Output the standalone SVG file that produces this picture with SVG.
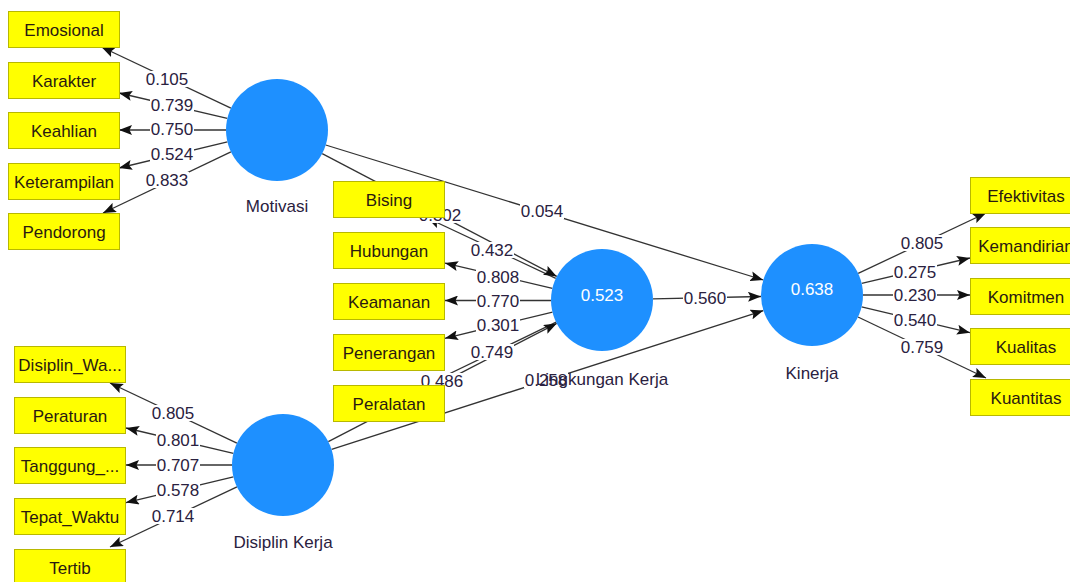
<svg xmlns="http://www.w3.org/2000/svg" width="1070" height="582" viewBox="0 0 1070 582">
<style>
.bg{fill:#ffffff}
.ln{stroke:#333333;stroke-width:1.3;fill:none;marker-end:url(#arr)}
.lb{fill:#ffffff}
.lbl{font-family:"Liberation Sans",Arial,sans-serif;font-size:17px;fill:#2a2140;text-anchor:middle}
.box{fill:#ffff00;stroke:#b8b800;stroke-width:1}
.bt{font-family:"Liberation Sans",Arial,sans-serif;font-size:17px;fill:#2a1a10;text-anchor:middle}
.lv{fill:#1e90ff}
.lvt{font-family:"Liberation Sans",Arial,sans-serif;font-size:17px;fill:#ffffff;text-anchor:middle}
.lvn{font-family:"Liberation Sans",Arial,sans-serif;font-size:17px;fill:#2a2140;text-anchor:middle}
</style>
<defs>
<marker id="arr" viewBox="0 0 13 10" refX="13" refY="5" markerWidth="13" markerHeight="10" markerUnits="userSpaceOnUse" orient="auto">
<path d="M0,0 L13,5 L0,10 L2.5,5 z" fill="#111111"/>
</marker>
</defs>
<rect class="bg" x="0" y="0" width="1070" height="582"/>

<g id="connectors">
<!-- Motivasi indicators -->
<line class="ln" x1="230.9" y1="108.2" x2="101.5" y2="47"/>
<line class="ln" x1="227.3" y1="118.4" x2="119" y2="93"/>
<line class="ln" x1="226" y1="130" x2="119" y2="130"/>
<line class="ln" x1="227.4" y1="141.8" x2="119" y2="168"/>
<line class="ln" x1="230.9" y1="151.8" x2="103" y2="213"/>
<!-- Disiplin Kerja indicators -->
<line class="ln" x1="236.9" y1="443.1" x2="110" y2="383"/>
<line class="ln" x1="233.4" y1="453.3" x2="126" y2="428"/>
<line class="ln" x1="232" y1="465" x2="126" y2="465"/>
<line class="ln" x1="233.4" y1="476.9" x2="126" y2="502.6"/>
<line class="ln" x1="237" y1="486.8" x2="110" y2="547"/>
<!-- Lingkungan Kerja indicators -->
<line class="ln" x1="555.8" y1="278.3" x2="427.3" y2="218"/>
<line class="ln" x1="552.4" y1="288.3" x2="445" y2="263.1"/>
<line class="ln" x1="551" y1="300.5" x2="445" y2="300.5"/>
<line class="ln" x1="552.5" y1="312.1" x2="445" y2="338.3"/>
<line class="ln" x1="556.1" y1="322.2" x2="426.2" y2="385"/>
<!-- Kinerja indicators -->
<line class="ln" x1="858.2" y1="273.4" x2="986" y2="213"/>
<line class="ln" x1="861.7" y1="283.4" x2="970" y2="258"/>
<line class="ln" x1="863" y1="295" x2="970" y2="295"/>
<line class="ln" x1="861.6" y1="306.9" x2="970" y2="332.7"/>
<line class="ln" x1="858" y1="317" x2="986" y2="378"/>
<!-- structural paths -->
<line class="ln" x1="325.7" y1="145" x2="763.3" y2="280"/>
<line class="ln" x1="322.2" y1="153.6" x2="556.8" y2="276.4"/>
<line class="ln" x1="328.3" y1="441.6" x2="556.7" y2="323.4"/>
<line class="ln" x1="331.6" y1="449.4" x2="763.4" y2="310.6"/>
<line class="ln" x1="653" y1="298.8" x2="761" y2="296.5"/>
</g>

<g id="labels">
<rect class="lb" x="145" y="71" width="44" height="16"/><text class="lbl" x="167" y="85">0.105</text>
<rect class="lb" x="150" y="97" width="44" height="16"/><text class="lbl" x="172" y="111">0.739</text>
<rect class="lb" x="150" y="121" width="44" height="16"/><text class="lbl" x="172" y="135">0.750</text>
<rect class="lb" x="150" y="146" width="44" height="16"/><text class="lbl" x="172" y="160">0.524</text>
<rect class="lb" x="145" y="172" width="44" height="16"/><text class="lbl" x="167" y="186">0.833</text>
<rect class="lb" x="151" y="405" width="44" height="16"/><text class="lbl" x="173" y="419">0.805</text>
<rect class="lb" x="156" y="432" width="44" height="16"/><text class="lbl" x="178" y="446">0.801</text>
<rect class="lb" x="156" y="457" width="44" height="16"/><text class="lbl" x="178" y="471">0.707</text>
<rect class="lb" x="156" y="482" width="44" height="16"/><text class="lbl" x="178" y="496">0.578</text>
<rect class="lb" x="151" y="508" width="44" height="16"/><text class="lbl" x="173" y="522">0.714</text>
<rect class="lb" x="418" y="207" width="44" height="16"/><text class="lbl" x="440" y="221">0.302</text>
<rect class="lb" x="470" y="242" width="44" height="16"/><text class="lbl" x="492" y="256">0.432</text>
<rect class="lb" x="476" y="269" width="44" height="16"/><text class="lbl" x="498" y="283">0.808</text>
<rect class="lb" x="476" y="293" width="44" height="16"/><text class="lbl" x="498" y="307">0.770</text>
<rect class="lb" x="476" y="317" width="44" height="16"/><text class="lbl" x="498" y="331">0.301</text>
<rect class="lb" x="470" y="344" width="44" height="16"/><text class="lbl" x="492" y="358">0.749</text>
<rect class="lb" x="420" y="373" width="44" height="16"/><text class="lbl" x="442" y="387">0.486</text>
<rect class="lb" x="524" y="372" width="44" height="16"/><text class="lbl" x="546" y="386">0.258</text>
<rect class="lb" x="520" y="203" width="44" height="16"/><text class="lbl" x="542" y="217">0.054</text>
<rect class="lb" x="683" y="290" width="44" height="16"/><text class="lbl" x="705" y="304">0.560</text>
<rect class="lb" x="900" y="235" width="44" height="16"/><text class="lbl" x="922" y="249">0.805</text>
<rect class="lb" x="893" y="264" width="44" height="16"/><text class="lbl" x="915" y="278">0.275</text>
<rect class="lb" x="893" y="287" width="44" height="16"/><text class="lbl" x="915" y="301">0.230</text>
<rect class="lb" x="893" y="312" width="44" height="16"/><text class="lbl" x="915" y="326">0.540</text>
<rect class="lb" x="900" y="339" width="44" height="16"/><text class="lbl" x="922" y="353">0.759</text>
</g>

<g id="motivasi">
<circle class="lv" cx="277" cy="130" r="51"/>
<text class="lvn" x="277" y="212">Motivasi</text>
</g>
<g id="disiplin-kerja">
<circle class="lv" cx="283" cy="465" r="51"/>
<text class="lvn" x="283" y="548">Disiplin Kerja</text>
</g>
<g id="lingkungan-kerja">
<circle class="lv" cx="602" cy="300" r="51"/>
<text class="lvt" x="602" y="301">0.523</text>
<text class="lvn" x="602" y="385">Lingkungan Kerja</text>
</g>
<g id="kinerja">
<circle class="lv" cx="812" cy="295" r="51"/>
<text class="lvt" x="812" y="295">0.638</text>
<text class="lvn" x="812" y="379">Kinerja</text>
</g>

<g id="emosional"><rect class="box" x="8.5" y="11.5" width="111" height="36"/><text class="bt" x="64" y="35.5">Emosional</text></g>
<g id="karakter"><rect class="box" x="8.5" y="62.5" width="111" height="36"/><text class="bt" x="64" y="86.5">Karakter</text></g>
<g id="keahlian"><rect class="box" x="8.5" y="112.5" width="111" height="36"/><text class="bt" x="64" y="136.5">Keahlian</text></g>
<g id="keterampilan"><rect class="box" x="8.5" y="163.5" width="111" height="36"/><text class="bt" x="64" y="187.5">Keterampilan</text></g>
<g id="pendorong"><rect class="box" x="8.5" y="213.5" width="111" height="36"/><text class="bt" x="64" y="237.5">Pendorong</text></g>

<g id="disiplin-waktu"><rect class="box" x="14.5" y="346.5" width="111" height="36"/><text class="bt" x="70" y="370.5">Disiplin_Wa...</text></g>
<g id="peraturan"><rect class="box" x="14.5" y="397.5" width="111" height="36"/><text class="bt" x="70" y="421.5">Peraturan</text></g>
<g id="tanggung"><rect class="box" x="14.5" y="447.5" width="111" height="36"/><text class="bt" x="70" y="471.5">Tanggung_...</text></g>
<g id="tepat-waktu"><rect class="box" x="14.5" y="498.5" width="111" height="36"/><text class="bt" x="70" y="522.5">Tepat_Waktu</text></g>
<g id="tertib"><rect class="box" x="14.5" y="549.5" width="111" height="36"/><text class="bt" x="70" y="573.5">Tertib</text></g>

<g id="bising"><rect class="box" x="333.5" y="181.5" width="111" height="36"/><text class="bt" x="389" y="205.5">Bising</text></g>
<g id="hubungan"><rect class="box" x="333.5" y="232.5" width="111" height="36"/><text class="bt" x="389" y="256.5">Hubungan</text></g>
<g id="keamanan"><rect class="box" x="333.5" y="283.5" width="111" height="36"/><text class="bt" x="389" y="307.5">Keamanan</text></g>
<g id="penerangan"><rect class="box" x="333.5" y="334.5" width="111" height="36"/><text class="bt" x="389" y="358.5">Penerangan</text></g>
<g id="peralatan"><rect class="box" x="333.5" y="385.5" width="111" height="36"/><text class="bt" x="389" y="409.5">Peralatan</text></g>

<g id="efektivitas"><rect class="box" x="970.5" y="177.5" width="111" height="36"/><text class="bt" x="1026" y="201.5">Efektivitas</text></g>
<g id="kemandirian"><rect class="box" x="970.5" y="227.5" width="111" height="36"/><text class="bt" x="1026" y="251.5">Kemandirian</text></g>
<g id="komitmen"><rect class="box" x="970.5" y="278.5" width="111" height="36"/><text class="bt" x="1026" y="302.5">Komitmen</text></g>
<g id="kualitas"><rect class="box" x="970.5" y="328.5" width="111" height="36"/><text class="bt" x="1026" y="352.5">Kualitas</text></g>
<g id="kuantitas"><rect class="box" x="970.5" y="379.5" width="111" height="36"/><text class="bt" x="1026" y="403.5">Kuantitas</text></g>
</svg>
